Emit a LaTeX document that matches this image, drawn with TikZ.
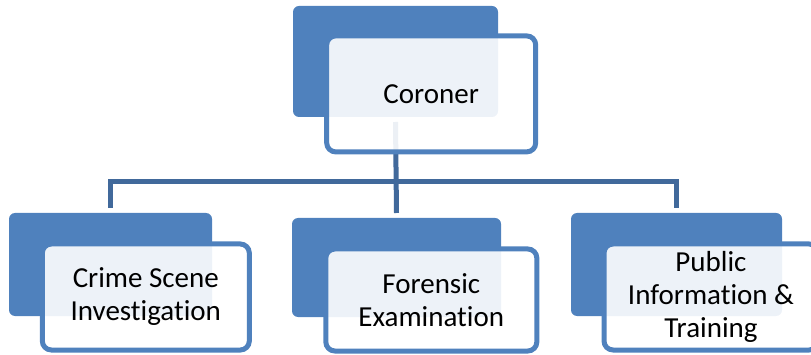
\documentclass[tikz,border=0pt]{standalone}
\usepackage{fontspec}
\setmainfont{Carlito}[Ligatures=NoCommon]
\definecolor{boxblue}{HTML}{4F81BD}
\definecolor{connblue}{HTML}{41699B}
\tikzset{
  backbox/.style={rectangle, fill=boxblue, rounded corners=6pt, inner sep=0pt, outer sep=0pt},
  frontbox/.style={rectangle, draw=boxblue, line width=5pt, fill=white, fill opacity=0.9, text opacity=1,
    rounded corners=9pt, inner sep=0pt, outer sep=0pt, align=center,
    font=\fontsize{29}{33}\selectfont},
  conn/.style={draw=connblue, line width=5pt, line join=miter}
}
\begin{document}
\begin{tikzpicture}[x=1pt,y=-1pt]
\useasboundingbox (0,0) rectangle (811,355);
% back boxes
\node[backbox, minimum width=205pt, minimum height=111pt] (topback) at (395.5,61.5) {};
\node[backbox, minimum width=203pt, minimum height=103pt] (leftback) at (110.5,264.5) {};
\node[backbox, minimum width=209pt, minimum height=99pt] (midback) at (396.5,267.5) {};
\node[backbox, minimum width=211pt, minimum height=103pt] (rightback) at (676.5,264.5) {};
% connectors
\coordinate (bus) at (395.5,181.5);
\draw[conn] ([yshift=-5pt]topback.south) -- ([yshift=5pt]midback.north);
\draw[conn] ([yshift=5pt]leftback.north) |- (bus) -| ([yshift=5pt]rightback.north);
% front boxes
\node[frontbox, minimum width=209pt, minimum height=116pt] (coroner) at (431.2,93.9) {Coroner};
\node[frontbox, minimum width=207pt, minimum height=106pt] (crime) at (145.8,297) {Crime Scene\\Investigation};
\node[frontbox, minimum width=211pt, minimum height=102pt] (forensic) at (431.3,300) {Forensic\\Examination};
\node[frontbox, minimum width=214pt, minimum height=106pt] (public) at (711,297) {Public\\Information \&\\Training};
\end{tikzpicture}
\end{document}
